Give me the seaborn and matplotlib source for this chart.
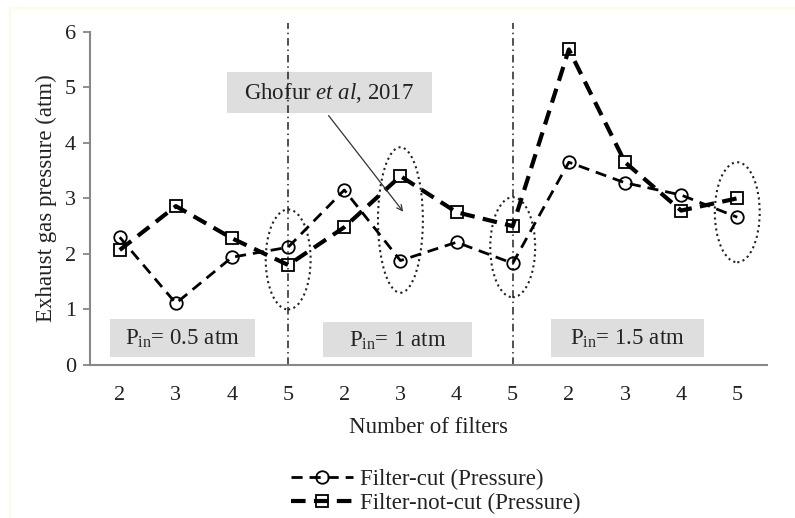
import numpy as np
import pandas as pd
import matplotlib
matplotlib.use("Agg")
import matplotlib.pyplot as plt
from matplotlib.patches import Rectangle, Ellipse
import seaborn as sns

filters = ["2", "3", "4", "5", "2", "3", "4", "5", "2", "3", "4", "5"]
filter_cut = [2.30, 1.11, 1.94, 2.12, 3.15, 1.88, 2.21, 1.83, 3.65, 3.28, 3.06, 2.66]
filter_not_cut = [2.07, 2.86, 2.28, 1.80, 2.48, 3.40, 2.75, 2.50, 5.68, 3.65, 2.78, 3.00]
groups = ["P$_{\\mathrm{in}}$= 0.5 atm", "P$_{\\mathrm{in}}$= 1 atm", "P$_{\\mathrm{in}}$= 1.5 atm"]

sns.set_style("white")
plt.rcParams["font.family"] = ["Liberation Serif", "DejaVu Serif"]
plt.rcParams["mathtext.fontset"] = "custom"
plt.rcParams["mathtext.rm"] = "Liberation Serif"
plt.rcParams["mathtext.it"] = "Liberation Serif:italic"
plt.rcParams["text.color"] = "#222222"

df = pd.DataFrame({"pos": np.arange(len(filters)), "cut": filter_cut, "notcut": filter_not_cut})

fig = plt.figure(figsize=(7.95, 5.18), dpi=100)
ax = fig.add_axes([0.1132, 0.2954, 0.8516, 0.6434])

sns.lineplot(data=df, x="pos", y="cut", ax=ax, color="black", lw=2.0, marker="o",
             markersize=9, markerfacecolor="none", markeredgecolor="black", markeredgewidth=1.3,
             dashes=False, linestyle=(0, (4, 2.5)), label="Filter-cut (Pressure)")
sns.lineplot(data=df, x="pos", y="notcut", ax=ax, color="black", lw=3.0, marker="s",
             markersize=9, markerfacecolor="none", markeredgecolor="black", markeredgewidth=1.3,
             dashes=False, linestyle=(0, (3.5, 2)), label="Filter-not-cut (Pressure)")

# separators between inlet pressure groups
for xv in [3, 7]:
    ax.plot([xv, xv], [0, 6.15], color="#222222", lw=1.1, linestyle=(0, (5, 2.5, 1, 2.5)),
            clip_on=False, zorder=1)

# dotted ellipses
for cx, cy, h in [(3, 1.9, 1.8), (5, 2.61, 2.62), (7, 2.12, 1.8), (11, 2.75, 1.8)]:
    ax.add_patch(Ellipse((cx, cy), 0.8, h, fill=False, ls=":", lw=1.5, ec="#222222", zorder=1))

# grey label boxes
box_spec = [(-0.18, 0.14, 2.59, 0.69), (3.62, 0.14, 2.65, 0.63), (7.68, 0.14, 2.73, 0.69)]
for (bx, by, bw, bh), lab in zip(box_spec, groups):
    ax.add_patch(Rectangle((bx, by), bw, bh, color="#dedede", lw=0, zorder=0))
    ax.text(bx + bw / 2, by + bh / 2 - 0.02, lab, ha="center", va="center", fontsize=16.5, zorder=2)

ax.add_patch(Rectangle((1.91, 4.53), 3.65, 0.74, color="#dedede", lw=0, zorder=0))
ax.text(3.73, 4.9, "Ghofur $\\mathit{et\\ al}$, 2017", ha="center", va="center", fontsize=16.5, zorder=2)
ax.annotate("", xy=(5.08, 2.72), xytext=(3.69, 4.53),
            arrowprops=dict(arrowstyle="->", color="#333333", lw=0.9))

ax.set_xlim(-0.53, 11.53)
ax.set_ylim(0, 6)
ax.set_xticks(range(len(filters)))
ax.set_xticklabels(filters)
ax.set_yticks(range(7))
ax.tick_params(axis="x", length=0, labelsize=16, pad=15, labelcolor="#222222")
ax.tick_params(axis="y", length=5, width=1.3, color="#888888", direction="out", left=True,
               labelsize=16, pad=5, labelcolor="#222222")
sns.despine(ax=ax)
for s in ["left", "bottom"]:
    ax.spines[s].set_color("#888888")
    ax.spines[s].set_linewidth(1.5)
ax.set_xlabel("Number of filters", fontsize=16.5, labelpad=9, color="#222222")
ax.set_ylabel("Exhaust gas pressure (atm)", fontsize=16.5, labelpad=6, color="#222222")

ax.legend_.remove()
h, l = ax.get_legend_handles_labels()
fig.legend(h, l, loc="center left", bbox_to_anchor=(0.352, 0.051), frameon=False, fontsize=16.5,
           handlelength=2.7, handletextpad=0.3, labelspacing=0.15, borderpad=0)

fig.patches.append(Rectangle((0.012, -0.1), 1.0, 1.085, transform=fig.transFigure,
                             fill=False, ec="#fdfbe0", lw=1.2))

fig.savefig("out.png", dpi=100)
